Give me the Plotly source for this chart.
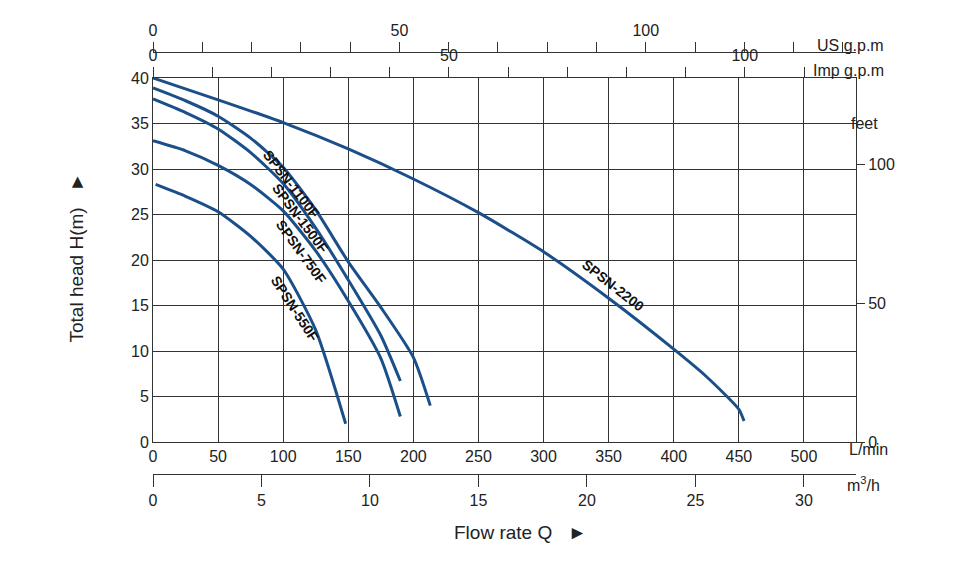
import plotly.graph_objects as go

q2200 = [0, 50, 100, 150, 200, 250, 300, 350, 400, 425, 450, 454]
h2200 = [40, 37.6, 35.1, 32.2, 28.9, 25.2, 20.9, 15.8, 10.2, 7.2, 3.6, 2.3]
q1100 = [0, 25, 50, 75, 100, 125, 150, 175, 200, 213]
h1100 = [38.9, 37.5, 35.8, 33.4, 30.2, 25.5, 19.8, 14.8, 9.3, 4.0]
q1500 = [0, 25, 50, 75, 100, 125, 150, 175, 190]
h1500 = [37.7, 36.2, 34.4, 31.8, 28.4, 23.5, 17.8, 11.7, 6.7]
q750 = [0, 25, 50, 75, 100, 125, 150, 175, 190]
h750 = [33.1, 32.0, 30.4, 28.3, 25.4, 21.0, 15.5, 9.2, 2.8]
q550 = [2, 25, 50, 75, 100, 125, 148]
h550 = [28.3, 27.0, 25.3, 22.6, 19.0, 12.3, 2.0]
labels = ["SPSN-2200", "SPSN-1100F", "SPSN-1500F", "SPSN-750F", "SPSN-550F"]
label_pos = [(353, 17.2, 38), (106, 28.3, 52), (113, 24.6, 53), (114, 20.9, 54), (109, 14.6, 57)]

XMAX = 540
F = "Liberation Sans Narrow, Arial Narrow, Liberation Sans"
col = "#1b4f8a"
fig = go.Figure()
for q, h in [(q2200, h2200), (q1100, h1100), (q1500, h1500), (q750, h750), (q550, h550)]:
    fig.add_trace(go.Scatter(x=q, y=h, mode="lines", line=dict(color=col, width=3, shape="spline", smoothing=0.6),
                             showlegend=False, hoverinfo="skip"))
fig.add_trace(go.Scatter(x=[0], y=[0], xaxis="x2", yaxis="y", mode="markers", opacity=0, showlegend=False))
fig.add_trace(go.Scatter(x=[0], y=[0], xaxis="x3", yaxis="y", mode="markers", opacity=0, showlegend=False))
fig.add_trace(go.Scatter(x=[0], y=[0], xaxis="x4", yaxis="y", mode="markers", opacity=0, showlegend=False))
fig.add_trace(go.Scatter(x=[0], y=[0], xaxis="x", yaxis="y2", mode="markers", opacity=0, showlegend=False))

ydom = [1 - 434 / 579, 1 - 70 / 579]
tf = dict(family=F, size=16, color="#222")
imp_vals = list(range(0, 120, 10))
us_vals = list(range(0, 150, 10))
common = dict(automargin=False, zeroline=False, tickfont=tf)
fig.update_layout(
    width=960, height=579, margin=dict(l=145, r=112, t=0, b=0),
    plot_bgcolor="white", paper_bgcolor="white", font=tf,
    xaxis=dict(range=[0, XMAX], domain=[0, 1], tickvals=list(range(0, 501, 50)), showgrid=True,
               gridcolor="#333", gridwidth=1, showline=True, linecolor="#333", mirror=False,
               ticks="", **common),
    xaxis2=dict(range=[0, XMAX * 0.06], anchor="free", overlaying="x", position=1 - 466 / 579, side="bottom",
                tickvals=list(range(0, 31, 5)), ticks="outside", ticklen=12, tickcolor="#333",
                showline=True, linecolor="#333", showgrid=False, **common),
    xaxis3=dict(range=[0, XMAX / 4.546], anchor="y", overlaying="x", side="top",
                tickvals=imp_vals, ticktext=[str(v) if v % 50 == 0 else "" for v in imp_vals],
                ticks="outside", ticklen=10, tickcolor="#333", showline=True, linecolor="#333",
                showgrid=False, **common),
    xaxis4=dict(range=[0, XMAX / 3.785], anchor="free", overlaying="x", position=1 - 44 / 579, side="top",
                tickvals=us_vals, ticktext=[str(v) if v % 50 == 0 else "" for v in us_vals],
                ticks="outside", ticklen=10, tickcolor="#333", showline=True, linecolor="#333",
                showgrid=False, **common),
    yaxis=dict(range=[0, 40], domain=ydom, tickvals=list(range(0, 41, 5)), showgrid=True,
               gridcolor="#333", showline=True, linecolor="#333", ticks="", **common),
    yaxis2=dict(range=[0, 40 * 3.2808], overlaying="y", side="right", anchor="x",
                tickvals=[0, 50, 100], ticks="outside", ticklen=8, tickcolor="#333",
                showline=True, linecolor="#333", showgrid=False, **common),
)
for t, (x, y, a) in zip(labels, label_pos):
    fig.add_annotation(x=x, y=y, text="<b>" + t + "</b>", textangle=a, showarrow=False,
                       font=dict(family="Liberation Sans", size=14, color="#111"))
ann = [("US g.p.m", 878, 27), ("Imp g.p.m", 878, 52), ("feet", 872, 105), ("L/min", 882, 452),
       ("m<sup>3</sup>/h", 874, 488), ("Flow rate Q   ►", 512, 537)]
for t, px, py in ann:
    fig.add_annotation(xref="paper", yref="paper", x=(px - 145) / (960 - 145 - 112), y=1 - py / 579,
                       text=t, showarrow=False, font=dict(family=F, size=19 if "Flow" in t else 16, color="#222"))
fig.add_annotation(xref="paper", yref="paper", x=(55 - 145) / 703, y=1 - 250 / 579, text="Total head H(m)   ►",
                   textangle=-90, showarrow=False, font=dict(family=F, size=19, color="#222"))
fig.write_html("out.html")
